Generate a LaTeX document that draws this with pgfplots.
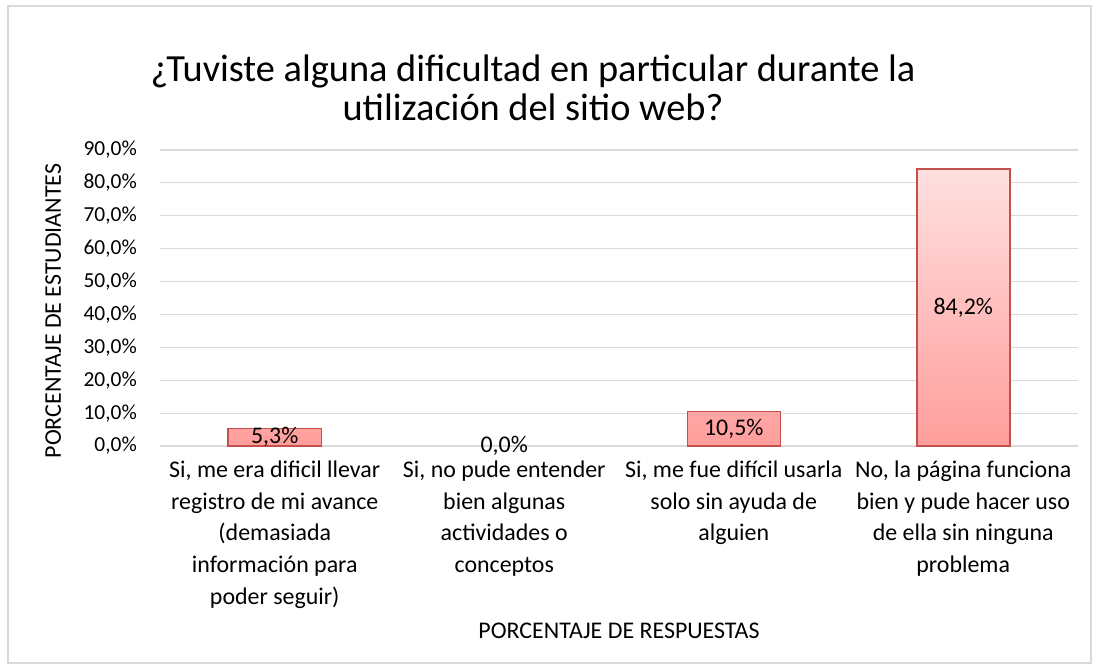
\documentclass[border=0pt]{standalone}
\usepackage{fontspec}
\setmainfont{Carlito}
\usepackage{pgfplots}
\pgfplotsset{compat=1.18}
\definecolor{gridc}{HTML}{D9D9D9}
\definecolor{framec}{HTML}{D9D9D9}
\definecolor{barline}{HTML}{C4504E}
\definecolor{bartop}{HTML}{FFE0E0}
\definecolor{barbot}{HTML}{FF9E9C}
\definecolor{txt}{HTML}{000000}
\begin{document}
\begin{tikzpicture}
\path[use as bounding box] (-160bp,-225bp) rectangle (939bp,446bp);
\draw[framec, line width=1.2bp] (-152bp,-217bp) rectangle (931bp,440bp);
\begin{axis}[
  at={(0,0)}, anchor=south west,
  scale only axis, width=918bp, height=296bp,
  xmin=-0.5, xmax=3.5, ymin=0, ymax=90,
  ytick={0,10,...,90},
  yticklabels={{0,0\%},{10,0\%},{20,0\%},{30,0\%},{40,0\%},{50,0\%},{60,0\%},{70,0\%},{80,0\%},{90,0\%}},
  xtick={0,1,2,3},
  xticklabels={
    {Si, me era dificil llevar\\registro de mi avance\\(demasiada\\información para\\poder seguir)},
    {Si, no pude entender\\bien algunas\\actividades o\\conceptos},
    {Si, me fue difícil usarla\\solo sin ayuda de\\alguien},
    {No, la página funciona\\bien y pude hacer uso\\de ella sin ninguna\\problema}},
  xticklabel style={font=\fontsize{24}{32}\selectfont, text=txt, align=center, anchor=north, yshift=-11bp},
  yticklabel style={font=\fontsize{21.5}{25}\selectfont, text=txt, anchor=east, inner sep=0pt, xshift=-23bp},
  major tick length=0pt,
  ymajorgrids, major grid style={gridc, line width=1.2bp},
  axis line style={draw=none},
  xlabel={PORCENTAJE DE RESPUESTAS},
  ylabel={PORCENTAJE DE ESTUDIANTES},
  every axis x label/.style={at={(axis description cs:0.5,0)}, yshift=-192bp, anchor=base,
     font=\fontsize{24}{28}\selectfont, text=txt, inner sep=0pt},
  every axis y label/.style={at={(axis description cs:0,0)}, xshift=-99bp, yshift=135bp, rotate=90, anchor=base,
     font=\fontsize{24}{28}\selectfont, text=txt, inner sep=0pt},
  clip=false,
]
\addplot[ybar, bar shift=0pt, bar width=93bp, draw=barline, line width=1.5bp,
  top color=bartop, bottom color=barbot,
  visualization depends on={rawy \as \rawy},
  nodes near coords,
  point meta=explicit symbolic,
  every node near coord/.append style={anchor=center, text=txt, fill=none, draw=none,
     font=\fontsize{24}{28}\selectfont, yshift={-\rawy*1.64444bp}},
] table[meta=lab] {
x y lab
0 5.3 5,3\%
2 10.5 10,5\%
3 84.2 84,2\%
};
\addplot[ybar, bar shift=0pt, bar width=93bp, draw=none, fill=none,
  nodes near coords,
  point meta=explicit symbolic,
  every node near coord/.append style={anchor=center, text=txt, fill=none, draw=none,
     font=\fontsize{24}{28}\selectfont},
] table[meta=lab] {
x y lab
1 0.0 0,0\%
};
\end{axis}
\node[anchor=base, inner sep=0pt, font=\fontsize{38.5}{40}\selectfont, text=txt] at (373bp,364bp)
  {¿Tuviste alguna dificultad en particular durante la};
\node[anchor=base, inner sep=0pt, font=\fontsize{38.5}{40}\selectfont, text=txt] at (373bp,325bp)
  {utilización del sitio web?};
\end{tikzpicture}
\end{document}
